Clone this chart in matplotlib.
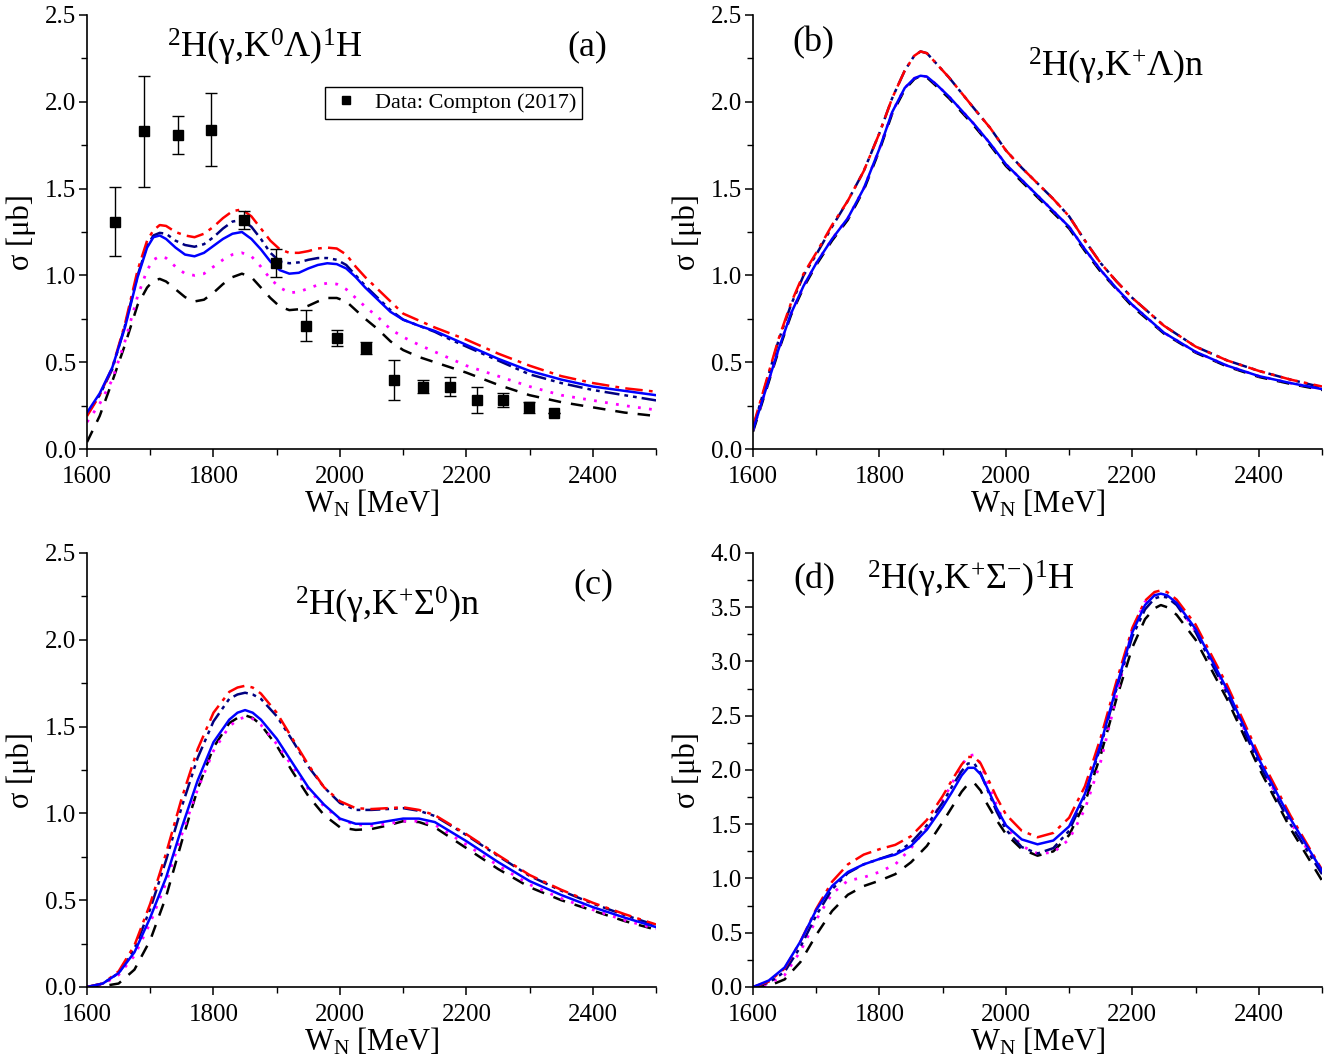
import matplotlib
matplotlib.use("Agg")
import matplotlib.pyplot as plt
from matplotlib.ticker import MultipleLocator, FormatStrFormatter
from matplotlib.lines import Line2D

plt.rcParams['font.family'] = ['Liberation Serif', 'DejaVu Serif']
plt.rcParams['mathtext.fontset'] = 'custom'
plt.rcParams['mathtext.rm'] = 'Liberation Serif'
plt.rcParams['mathtext.it'] = 'Liberation Serif:italic'

# ---------------- Panel (a): 2H(g,K0 Lambda)1H ----------------
Wa = [1600, 1620, 1640, 1660, 1680, 1695, 1705, 1715, 1725, 1740, 1755, 1770, 1785, 1800,
      1815, 1830, 1845, 1860, 1875, 1890, 1905, 1920, 1935, 1950, 1965, 1980, 1995, 2010,
      2025, 2040, 2060, 2080, 2100, 2125, 2150, 2175, 2200, 2250, 2300, 2350, 2400, 2450, 2500]
a_red = [0.19, 0.31, 0.47, 0.72, 1.03, 1.20, 1.26, 1.29, 1.285, 1.25, 1.23, 1.22, 1.24, 1.28,
         1.33, 1.37, 1.38, 1.34, 1.27, 1.20, 1.15, 1.13, 1.13, 1.14, 1.155, 1.16, 1.155, 1.12,
         1.05, 0.99, 0.92, 0.85, 0.78, 0.74, 0.70, 0.665, 0.63, 0.55, 0.48, 0.42, 0.38, 0.35, 0.33]
a_navy = [0.20, 0.31, 0.46, 0.71, 1.00, 1.17, 1.23, 1.245, 1.24, 1.20, 1.175, 1.165, 1.18, 1.22,
          1.27, 1.31, 1.32, 1.28, 1.21, 1.13, 1.08, 1.07, 1.075, 1.09, 1.10, 1.10, 1.09, 1.06,
          1.00, 0.94, 0.87, 0.80, 0.745, 0.71, 0.675, 0.63, 0.59, 0.51, 0.43, 0.38, 0.34, 0.31, 0.28]
a_blue = [0.21, 0.32, 0.47, 0.70, 0.99, 1.16, 1.22, 1.23, 1.21, 1.16, 1.12, 1.11, 1.13, 1.17,
          1.21, 1.24, 1.25, 1.21, 1.15, 1.08, 1.03, 1.01, 1.015, 1.04, 1.06, 1.07, 1.065, 1.04,
          0.99, 0.93, 0.86, 0.79, 0.745, 0.71, 0.68, 0.64, 0.60, 0.52, 0.45, 0.40, 0.36, 0.335, 0.31]
a_mag = [0.155, 0.26, 0.40, 0.62, 0.88, 1.03, 1.09, 1.11, 1.10, 1.05, 1.01, 1.00, 1.01, 1.05,
         1.09, 1.12, 1.13, 1.11, 1.05, 0.98, 0.93, 0.90, 0.905, 0.925, 0.945, 0.955, 0.95, 0.92,
         0.87, 0.82, 0.76, 0.69, 0.645, 0.60, 0.56, 0.52, 0.48, 0.42, 0.36, 0.31, 0.28, 0.25, 0.225]
a_blk = [0.04, 0.19, 0.39, 0.60, 0.83, 0.93, 0.97, 0.98, 0.965, 0.92, 0.875, 0.85, 0.86, 0.90,
         0.95, 0.99, 1.01, 0.99, 0.93, 0.87, 0.82, 0.80, 0.805, 0.825, 0.85, 0.87, 0.87, 0.85,
         0.80, 0.75, 0.69, 0.62, 0.57, 0.53, 0.50, 0.47, 0.44, 0.37, 0.31, 0.27, 0.24, 0.21, 0.19]

# Compton (2017) data
data_W = [1644, 1690, 1744, 1796, 1848, 1899, 1946, 1996, 2041, 2086, 2131, 2174, 2217, 2258, 2299, 2339]
data_s = [1.31, 1.83, 1.81, 1.84, 1.32, 1.07, 0.71, 0.64, 0.58, 0.40, 0.36, 0.36, 0.285, 0.28, 0.24, 0.21]
data_e = [0.20, 0.32, 0.11, 0.21, 0.05, 0.08, 0.09, 0.045, 0.035, 0.115, 0.04, 0.055, 0.075, 0.04, 0.03, 0.0]

# ---------------- Panel (b): 2H(g,K+ Lambda)n ----------------
Wb = [1600, 1620, 1640, 1660, 1680, 1700, 1725, 1750, 1775, 1800, 1820, 1840, 1855, 1865,
      1875, 1890, 1910, 1930, 1950, 1975, 2000, 2025, 2050, 2075, 2100, 2125, 2150, 2175,
      2200, 2250, 2300, 2350, 2400, 2450, 2500]
b_red = [0.13, 0.38, 0.63, 0.84, 1.01, 1.13, 1.29, 1.43, 1.60, 1.82, 2.02, 2.18, 2.265, 2.29,
         2.28, 2.22, 2.14, 2.05, 1.96, 1.85, 1.72, 1.62, 1.53, 1.44, 1.34, 1.20, 1.07, 0.965,
         0.87, 0.71, 0.59, 0.51, 0.45, 0.40, 0.36]
b_navy = [0.12, 0.37, 0.62, 0.83, 1.00, 1.12, 1.28, 1.43, 1.60, 1.82, 2.02, 2.18, 2.265, 2.29,
          2.28, 2.22, 2.14, 2.05, 1.96, 1.85, 1.72, 1.62, 1.53, 1.44, 1.34, 1.20, 1.07, 0.965,
          0.87, 0.71, 0.59, 0.51, 0.45, 0.40, 0.355]
b_blue = [0.11, 0.34, 0.57, 0.78, 0.94, 1.07, 1.21, 1.33, 1.50, 1.73, 1.94, 2.08, 2.135, 2.15,
          2.145, 2.10, 2.03, 1.95, 1.87, 1.76, 1.64, 1.55, 1.46, 1.37, 1.28, 1.15, 1.03, 0.925,
          0.83, 0.67, 0.56, 0.48, 0.42, 0.38, 0.345]
b_mag = [0.11, 0.34, 0.57, 0.78, 0.94, 1.07, 1.21, 1.33, 1.50, 1.73, 1.94, 2.08, 2.135, 2.15,
         2.145, 2.10, 2.03, 1.95, 1.87, 1.76, 1.64, 1.55, 1.46, 1.37, 1.28, 1.15, 1.03, 0.925,
         0.83, 0.67, 0.56, 0.48, 0.42, 0.38, 0.345]
b_blk = [0.10, 0.33, 0.56, 0.77, 0.93, 1.06, 1.20, 1.32, 1.49, 1.72, 1.93, 2.07, 2.13, 2.15,
         2.14, 2.09, 2.02, 1.94, 1.86, 1.75, 1.63, 1.54, 1.45, 1.36, 1.27, 1.14, 1.02, 0.92,
         0.82, 0.665, 0.555, 0.475, 0.415, 0.375, 0.34]

# ---------------- Panel (c): 2H(g,K+ Sigma0)n ----------------
Wc = [1600, 1625, 1650, 1675, 1700, 1725, 1750, 1775, 1800, 1825, 1838, 1850, 1862, 1875,
      1900, 1925, 1950, 1975, 2000, 2025, 2050, 2075, 2100, 2125, 2150, 2200, 2250, 2300,
      2350, 2400, 2450, 2500]
c_red = [0.0, 0.02, 0.09, 0.24, 0.48, 0.77, 1.09, 1.37, 1.58, 1.70, 1.725, 1.735, 1.725, 1.69,
         1.58, 1.43, 1.28, 1.15, 1.07, 1.03, 1.025, 1.03, 1.035, 1.02, 0.99, 0.88, 0.76, 0.645,
         0.56, 0.485, 0.42, 0.36]
c_navy = [0.0, 0.02, 0.08, 0.22, 0.45, 0.73, 1.04, 1.32, 1.53, 1.66, 1.685, 1.695, 1.685, 1.66,
          1.56, 1.42, 1.27, 1.15, 1.06, 1.02, 1.02, 1.025, 1.03, 1.015, 0.985, 0.875, 0.755,
          0.64, 0.555, 0.48, 0.415, 0.355]
c_blue = [0.0, 0.02, 0.08, 0.20, 0.40, 0.63, 0.92, 1.19, 1.41, 1.54, 1.58, 1.595, 1.58, 1.54,
          1.43, 1.29, 1.15, 1.05, 0.97, 0.94, 0.94, 0.955, 0.97, 0.97, 0.95, 0.84, 0.72, 0.61,
          0.53, 0.46, 0.40, 0.345]
c_mag = [0.0, 0.015, 0.07, 0.18, 0.37, 0.60, 0.88, 1.14, 1.36, 1.50, 1.54, 1.555, 1.545, 1.51,
         1.40, 1.27, 1.14, 1.04, 0.965, 0.935, 0.93, 0.94, 0.955, 0.955, 0.935, 0.82, 0.70,
         0.59, 0.51, 0.445, 0.385, 0.335]
c_blk = [0.0, 0.005, 0.02, 0.10, 0.27, 0.52, 0.84, 1.14, 1.38, 1.52, 1.55, 1.565, 1.55, 1.51,
         1.39, 1.24, 1.10, 0.99, 0.92, 0.905, 0.91, 0.93, 0.955, 0.95, 0.92, 0.80, 0.68, 0.575,
         0.50, 0.44, 0.38, 0.33]

# ---------------- Panel (d): 2H(g,K+ Sigma-)1H ----------------
Wd = [1600, 1625, 1650, 1675, 1700, 1725, 1750, 1775, 1800, 1825, 1850, 1875, 1900, 1915,
      1930, 1940, 1950, 1960, 1970, 1985, 2000, 2025, 2050, 2075, 2100, 2125, 2150, 2175,
      2200, 2220, 2235, 2245, 2255, 2270, 2300, 2350, 2400, 2450, 2500]
d_red = [0.0, 0.05, 0.17, 0.42, 0.72, 0.97, 1.13, 1.22, 1.27, 1.31, 1.39, 1.54, 1.76, 1.91,
         2.05, 2.12, 2.12, 2.06, 1.94, 1.75, 1.59, 1.44, 1.38, 1.42, 1.56, 1.85, 2.30, 2.82,
         3.31, 3.56, 3.64, 3.655, 3.64, 3.57, 3.34, 2.78, 2.14, 1.58, 1.08]
d_navy = [0.0, 0.04, 0.14, 0.37, 0.66, 0.90, 1.05, 1.13, 1.18, 1.23, 1.33, 1.49, 1.70, 1.85,
          1.99, 2.06, 2.06, 1.97, 1.83, 1.62, 1.45, 1.29, 1.23, 1.28, 1.44, 1.76, 2.22, 2.75,
          3.23, 3.48, 3.58, 3.60, 3.59, 3.52, 3.27, 2.70, 2.06, 1.50, 1.04]
d_blue = [0.0, 0.06, 0.18, 0.42, 0.71, 0.93, 1.06, 1.13, 1.18, 1.22, 1.30, 1.45, 1.66, 1.80,
          1.95, 2.02, 2.02, 1.96, 1.84, 1.65, 1.49, 1.36, 1.315, 1.35, 1.48, 1.78, 2.24, 2.77,
          3.27, 3.52, 3.61, 3.625, 3.61, 3.54, 3.30, 2.74, 2.10, 1.55, 1.07]
d_mag = [0.0, 0.03, 0.11, 0.33, 0.62, 0.86, 0.98, 1.01, 1.06, 1.13, 1.28, 1.47, 1.72, 1.88,
         2.04, 2.13, 2.14, 2.06, 1.90, 1.68, 1.48, 1.30, 1.23, 1.24, 1.36, 1.64, 2.08, 2.68,
         3.30, 3.55, 3.61, 3.62, 3.60, 3.53, 3.28, 2.72, 2.08, 1.52, 1.05]
d_blk = [0.0, 0.01, 0.07, 0.23, 0.48, 0.70, 0.85, 0.93, 0.98, 1.04, 1.15, 1.30, 1.52, 1.66,
         1.80, 1.87, 1.88, 1.81, 1.69, 1.54, 1.41, 1.27, 1.21, 1.25, 1.40, 1.70, 2.14, 2.66,
         3.13, 3.39, 3.49, 3.52, 3.50, 3.43, 3.20, 2.65, 2.02, 1.46, 0.98]

titles = [r'$^{2}$H(γ,K$^{0}$Λ)$^{1}$H', r'$^{2}$H(γ,K$^{+}$Λ)n',
          r'$^{2}$H(γ,K$^{+}$Σ$^{0}$)n', r'$^{2}$H(γ,K$^{+}$Σ$^{-}$)$^{1}$H']
letters = ['(a)', '(b)', '(c)', '(d)']

styles = {
    'red':  dict(color='#ff0000', lw=1.8, ls=(0, (7, 2.5, 1.5, 2.5))),
    'navy': dict(color='#000080', lw=1.8, ls=(0, (6, 2, 1.5, 2, 1.5, 2))),
    'blue': dict(color='#0000ff', lw=1.8, ls='-'),
    'mag':  dict(color='#ff00ff', lw=2.0, ls=(0, (1, 3))),
    'blk':  dict(color='#000000', lw=1.8, ls=(0, (5, 4))),
}

fig = plt.figure(figsize=(13.43, 10.63), dpi=100)
W_ax, H_ax = 0.4237, 0.4083
positions = [(0.0648, 0.5776), (0.5607, 0.5776), (0.0648, 0.0715), (0.5607, 0.0715)]
axes = [fig.add_axes([x, y, W_ax, H_ax]) for x, y in positions]

panels = [
    (Wa, a_red, a_navy, a_blue, a_mag, a_blk),
    (Wb, b_red, b_navy, b_blue, b_mag, b_blk),
    (Wc, c_red, c_navy, c_blue, c_mag, c_blk),
    (Wd, d_red, d_navy, d_blue, d_mag, d_blk),
]

for i, (ax, (W, r, n, b, m, k)) in enumerate(zip(axes, panels)):
    ax.plot(W, k, **styles['blk'])
    ax.plot(W, m, **styles['mag'])
    ax.plot(W, n, **styles['navy'])
    ax.plot(W, r, **styles['red'])
    ax.plot(W, b, **styles['blue'])
    ax.set_xlim(1600, 2500)
    ymax = 4.0 if i == 3 else 2.5
    ax.set_ylim(0, ymax)
    ax.xaxis.set_major_locator(MultipleLocator(200))
    ax.xaxis.set_minor_locator(MultipleLocator(100))
    ax.yaxis.set_major_locator(MultipleLocator(0.5))
    ax.yaxis.set_minor_locator(MultipleLocator(0.25))
    ax.yaxis.set_major_formatter(FormatStrFormatter('%.1f'))
    for s in ['top', 'right']:
        ax.spines[s].set_visible(False)
    for s in ['left', 'bottom']:
        ax.spines[s].set_linewidth(1.2)
    ax.tick_params(which='major', direction='out', length=6, width=1.1, labelsize=18, pad=2)
    ax.tick_params(axis='x', which='major', pad=6)
    ax.tick_params(which='minor', direction='out', length=4, width=1.0)
    ax.set_xlabel(r'W$_{\mathrm{N}}$ [MeV]', fontsize=22, labelpad=0)
    ax.set_ylabel('σ [μb]', fontsize=22, labelpad=6)

# Data points on panel (a)
axes[0].errorbar(data_W, data_s, yerr=data_e, fmt='s', color='black', ms=7,
                 ecolor='black', elinewidth=1.0, capsize=4, capthick=1.0, zorder=5)
proxy = Line2D([], [], ls='none', marker='s', color='black', ms=6)
leg = axes[0].legend([proxy], ['Data: Compton (2017)'], loc='upper left',
                     bbox_to_anchor=(0.418, 0.834), borderaxespad=0, fontsize=16,
                     frameon=True, fancybox=False, edgecolor='black', framealpha=1,
                     handlelength=1.4, borderpad=0.25, handletextpad=0.6)
leg.get_frame().set_linewidth(1.0)

# Reaction labels and panel letters
title_pos = [(0.313, 0.925), (0.638, 0.882), (0.527, 0.880), (0.383, 0.938)]
letter_pos = [(0.880, 0.926), (0.106, 0.935), (0.889, 0.926), (0.108, 0.938)]
for ax, t, tp, l, lp in zip(axes, titles, title_pos, letters, letter_pos):
    ax.text(tp[0], tp[1], t, transform=ax.transAxes, fontsize=26, ha='center', va='center')
    ax.text(lp[0], lp[1], l, transform=ax.transAxes, fontsize=26, ha='center', va='center')

fig.savefig('out.png', dpi=100)
